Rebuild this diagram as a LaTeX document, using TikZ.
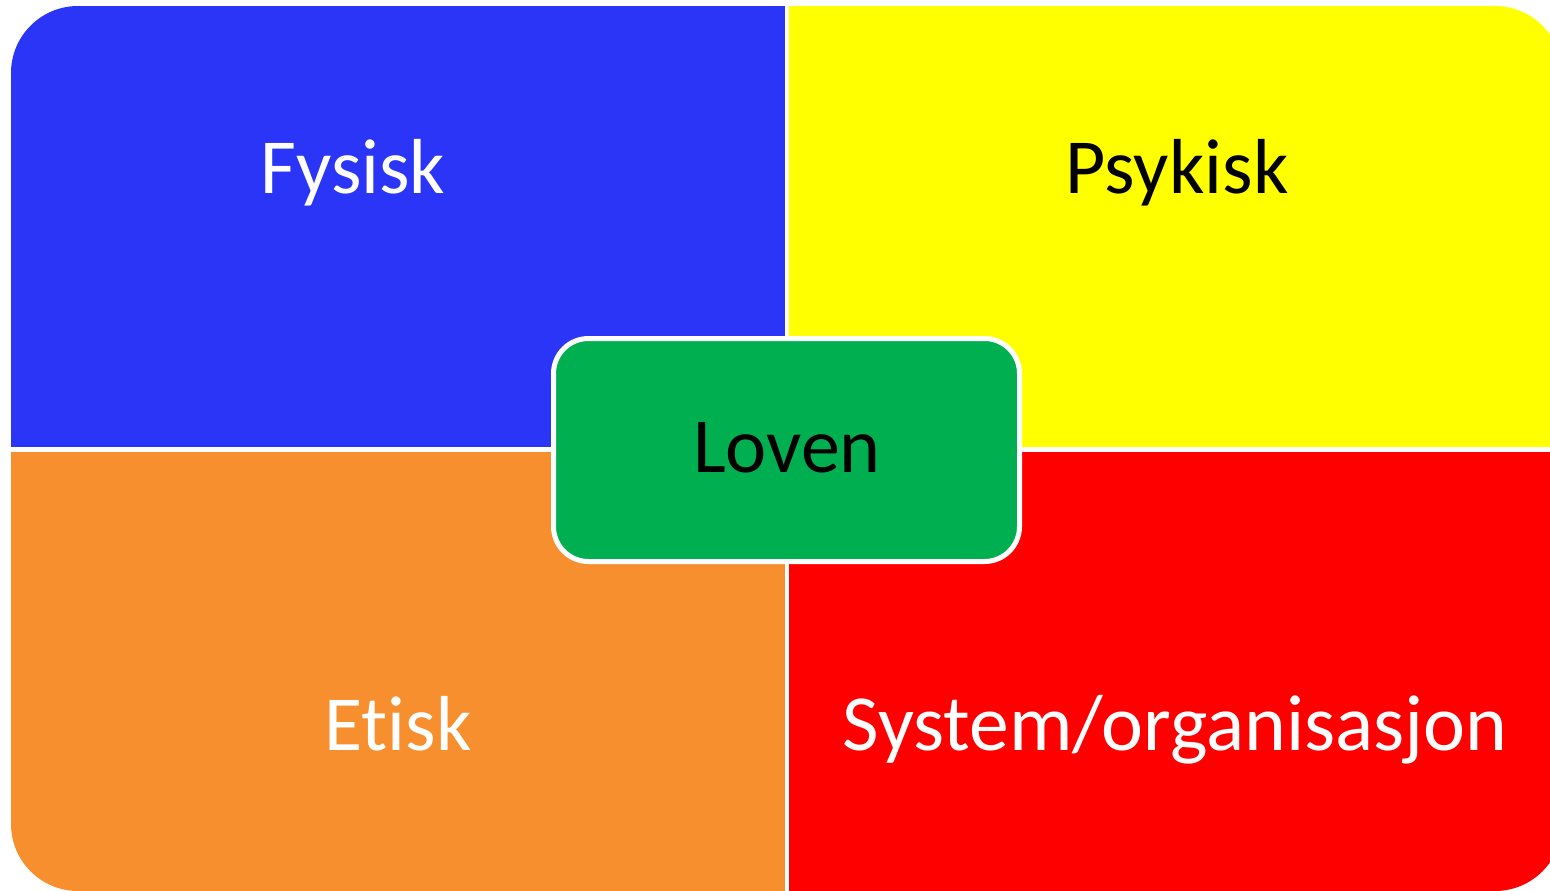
\documentclass[tikz,border=0pt]{standalone}
\usepackage{fontspec}
\setmainfont[Ligatures=NoCommon]{Carlito}
\usepackage{xcolor}
\usepackage{tikz}
\usetikzlibrary{positioning,calc}

\definecolor{fysblue}{RGB}{43,53,247}
\definecolor{psyyellow}{RGB}{255,255,0}
\definecolor{etorange}{RGB}{248,143,46}
\definecolor{sysred}{RGB}{255,0,0}
\definecolor{lovgreen}{RGB}{0,176,80}

\begin{document}
\begin{tikzpicture}[
    x=1pt, y=-1pt,
    quadrant/.style={inner sep=0pt, font=\fontsize{78}{90}\selectfont},
    centre/.style={rectangle, draw=white, line width=5pt, fill=lovgreen, rounded corners=35pt, minimum width=466pt, minimum height=223pt, inner sep=0pt, font=\fontsize{78}{90}\selectfont}
]
    \useasboundingbox (0,0) rectangle (1550,891);

    % Quadrants
    \begin{scope}
        \clip[rounded corners=67pt] (11,6) rectangle (1562,891);
        \fill[fysblue] (11,6) rectangle (785,447);
        \fill[psyyellow] (789,6) rectangle (1562,447);
        \fill[etorange] (11,452) rectangle (785,891);
        \fill[sysred] (789,452) rectangle (1562,891);
    \end{scope}

    % Labels
    \node[quadrant, anchor=base, text=white] (fysisk) at (353,193) {Fysisk};
    \node[quadrant, anchor=base, text=black] (psykisk) at (1177,193) {Psykisk};
    \node[quadrant, anchor=base, text=white] (etisk) at (398,750) {Etisk};
    \node[quadrant, anchor=base, text=white, font=\fontsize{79.5}{90}\selectfont] (system) at (1175,750) {System/organisasjon};

    % Centre
    \node[centre] (loven) at (786.5,450) {};
    \node[quadrant, anchor=base, text=black] (lovtxt) at (787,472) {Loven};
\end{tikzpicture}
\end{document}
